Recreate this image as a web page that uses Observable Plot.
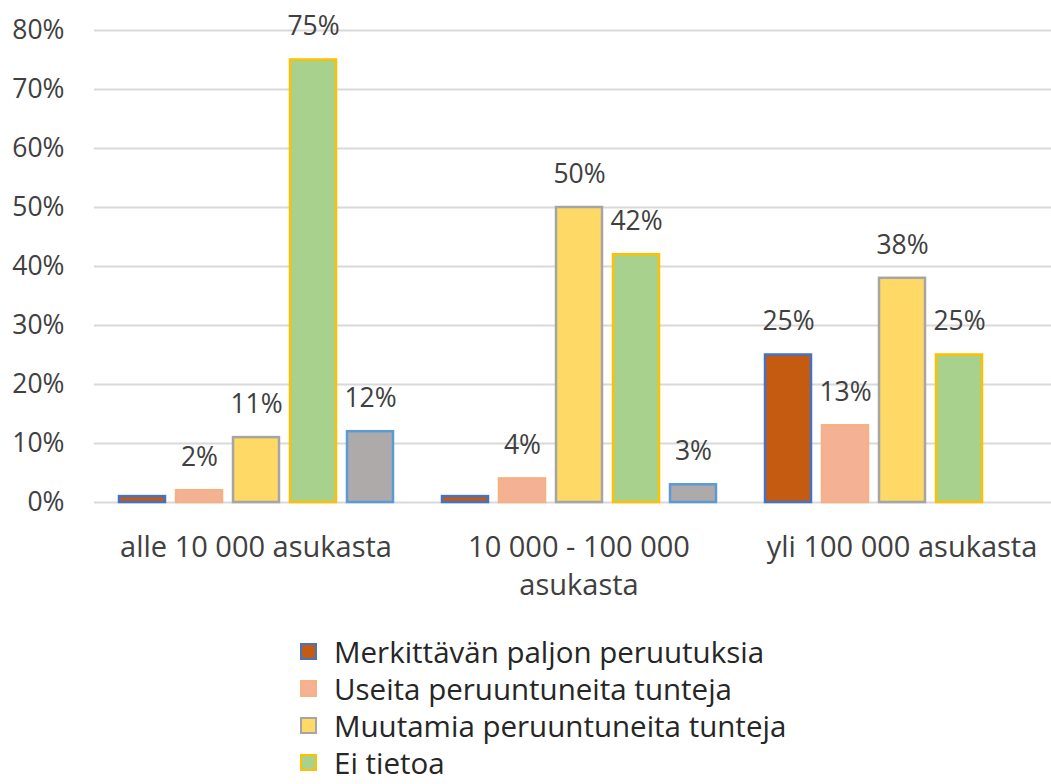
<!DOCTYPE html>
<html>
<head>
<meta charset="utf-8">
<script src="https://cdn.jsdelivr.net/npm/d3@7"></script>
<script src="https://cdn.jsdelivr.net/npm/@observablehq/plot@0.6"></script>
<style>
  html, body { margin: 0; padding: 0; background: #fff; overflow: hidden; }
  #wrap { position: relative; width: 1051px; height: 784px; overflow: hidden; font-family: "Open Sans", Lato, sans-serif; color: #262626; }
  #chart svg { max-width: none !important; }
  #legend { position: absolute; left: 300px; top: 633px; font-size: 29.5px; }
  .row { display: flex; align-items: center; height: 37px; }
  .row span { line-height: 1; }
  .sw { width: 17px; height: 17px; box-sizing: border-box; border: 2.5px solid; margin-right: 17px; }
</style>
</head>
<body>
<div id="wrap"><div id="chart"></div><div id="legend"></div></div>
<script>
const groups = ["alle 10 000 asukasta", "10 000 - 100 000\nasukasta", "yli 100 000 asukasta"];
const series = ["Merkittävän paljon peruutuksia", "Useita peruuntuneita tunteja", "Muutamia peruuntuneita tunteja", "Ei tietoa", "Sarja 5"];
const legendShown = series.slice(0, 4);
const fills = ["#C55A11", "#F5B193", "#FFD966", "#A9D18E", "#AEAAAA"];
const strokes = ["#4472C4", "#F4B183", "#A5A5A5", "#FFC000", "#5B9BD5"];
// values per group, in series order
const values = [
  [0.01, 0.02, 0.11, 0.75, 0.12],
  [0.01, 0.04, 0.50, 0.42, 0.03],
  [0.25, 0.13, 0.38, 0.25, null]
];
const labels = [
  [null, "2%", "11%", "75%", "12%"],
  [null, "4%", "50%", "42%", "3%"],
  ["25%", "13%", "38%", "25%", null]
];
const yTicks = [0, 0.1, 0.2, 0.3, 0.4, 0.5, 0.6, 0.7, 0.8];

const data = [];
groups.forEach((g, gi) => series.forEach((s, si) => {
  if (values[gi][si] != null) data.push({group: g, series: s, value: values[gi][si], label: labels[gi][si], si});
}));

const chart = Plot.plot({
  width: 1063, height: 630,
  marginLeft: 93, marginRight: 0, marginTop: 30, marginBottom: 128,
  style: {fontFamily: "'Open Sans', Lato, sans-serif", color: "#404040", background: "#fff", maxWidth: "none", overflow: "hidden"},
  fx: {domain: groups, padding: 0, label: null, axis: null},
  x: {domain: series, paddingInner: 0.197, paddingOuter: 0.392, axis: null},
  y: {domain: [0, 0.8], axis: null},
  color: {type: "identity"},
  marks: [
    Plot.gridY(yTicks, {stroke: "#D9D9D9", strokeOpacity: 1, strokeWidth: 2}),
    Plot.axisY(yTicks, {tickSize: 0, tickPadding: 30, fontSize: 26.5, tickFormat: d => Math.round(d * 100) + "%", label: null, fill: "#404040"}),
    Plot.text(groups, {fx: d => d, text: d => d, frameAnchor: "bottom", lineAnchor: "top", dy: 28, lineHeight: 1.3, fontSize: 29, fill: "#404040"}),
    Plot.barY(data, {fx: "group", x: "series", y: "value", fill: d => fills[d.si], stroke: d => strokes[d.si], strokeWidth: 2.5}),
    Plot.text(data.filter(d => d.label), {fx: "group", x: "series", y: "value", text: "label", dy: -33, fontSize: 26.5, fill: "#404040"})
  ]
});
chart.style.maxWidth = "none";
document.getElementById("chart").appendChild(chart);

const leg = document.getElementById("legend");
legendShown.forEach((s) => {
  const i = series.indexOf(s);
  const row = document.createElement("div");
  row.className = "row";
  const sw = document.createElement("div");
  sw.className = "sw";
  sw.style.background = fills[i];
  sw.style.borderColor = strokes[i];
  const t = document.createElement("span");
  t.textContent = s;
  row.appendChild(sw); row.appendChild(t);
  leg.appendChild(row);
});
</script>
</body>
</html>
